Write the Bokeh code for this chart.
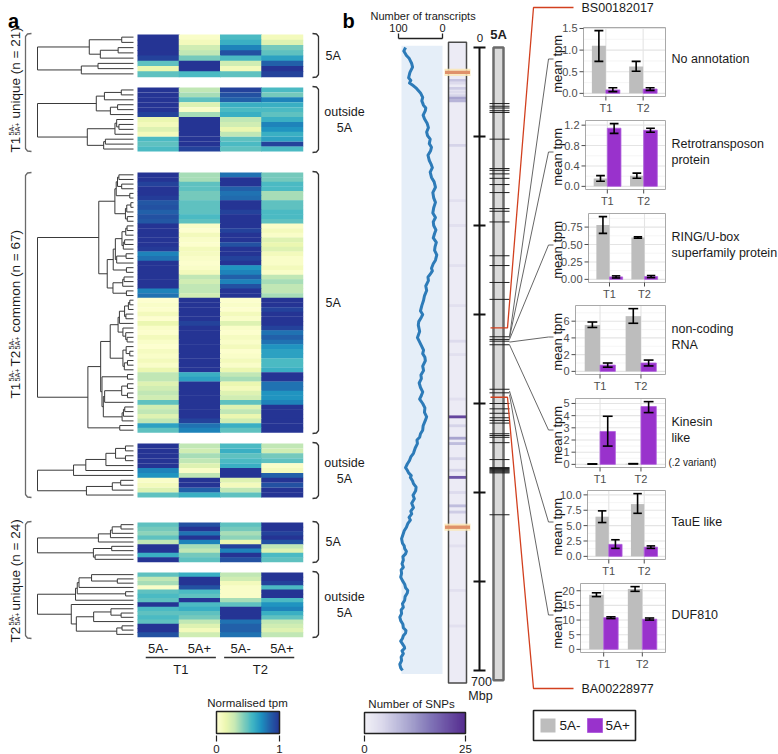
import numpy as np
from bokeh.plotting import figure
from bokeh.models import Range1d, ColumnDataSource, LinearColorMapper
from bokeh.core.properties import value
from bokeh.embed import file_html
from bokeh.resources import INLINE

# ======================= DATA =======================
heat_col_labels = ["5A-", "5A+", "5A-", "5A+"]
treatments = ["T1", "T2"]

# normalised tpm per transcript, columns: T1 5A-, T1 5A+, T2 5A-, T2 5A+
t1u_5a = [[1.0, 0.05, 0.55, 0.10], [1.0, 0.10, 0.60, 0.20], [1.0, 0.25, 0.75, 0.45],
          [1.0, 0.30, 0.90, 0.50], [0.95, 0.45, 0.55, 0.65], [0.50, 1.0, 0.25, 0.85],
          [0.15, 1.0, 0.10, 1.0], [0.50, 0.55, 0.50, 0.95]]
t1u_out = [[1.0, 0.30, 0.95, 0.55], [1.0, 0.35, 0.90, 0.45], [1.0, 0.50, 0.85, 0.75],
           [1.0, 0.20, 0.60, 0.60], [1.0, 0.05, 0.55, 0.55], [0.95, 0.35, 0.60, 0.50],
           [0.15, 1.0, 0.30, 0.60], [0.10, 1.0, 0.25, 0.75], [0.20, 1.0, 0.15, 0.70],
           [0.10, 1.0, 0.30, 0.60], [0.55, 1.0, 0.50, 0.65], [0.50, 1.0, 0.55, 0.95],
           [0.55, 0.95, 0.50, 0.55]]
com_5a = [[1.0, 0.35, 0.80, 0.45], [1.0, 0.35, 1.0, 0.45], [0.95, 0.50, 1.0, 0.55],
          [1.0, 0.50, 0.85, 0.55], [1.0, 0.45, 0.80, 0.35], [0.97, 0.45, 0.82, 0.35],
          [0.88, 0.50, 1.0, 0.50], [0.90, 0.50, 1.0, 0.50], [0.85, 0.50, 0.95, 0.55],
          [0.90, 0.55, 1.0, 0.55], [0.88, 0.50, 1.0, 0.50], [1.0, 0.05, 1.0, 0.05],
          [1.0, 0.02, 0.95, 0.10], [1.0, 0.10, 1.0, 0.05], [1.0, 0.05, 1.0, 0.20],
          [1.0, 0.03, 0.90, 0.15], [0.98, 0.10, 1.0, 0.20], [0.75, 0.08, 1.0, 0.10],
          [0.80, 0.05, 0.95, 0.05], [1.0, 0.03, 1.0, 0.05], [1.0, 0.05, 0.70, 0.10],
          [1.0, 0.10, 0.75, 0.05], [1.0, 0.30, 0.85, 0.30], [1.0, 0.25, 0.75, 0.35],
          [1.0, 0.30, 0.90, 0.30], [0.75, 0.30, 1.0, 0.30], [0.80, 0.25, 1.0, 0.35],
          [0.02, 1.0, 0.03, 1.0], [0.05, 1.0, 0.05, 1.0], [0.03, 1.0, 0.02, 0.95],
          [0.10, 1.0, 0.10, 1.0], [0.02, 1.0, 0.05, 1.0], [0.15, 0.95, 0.20, 1.0],
          [0.05, 1.0, 0.05, 0.95], [0.03, 1.0, 0.03, 0.80], [0.10, 1.0, 0.08, 0.85],
          [0.05, 1.0, 0.05, 0.80], [0.02, 1.0, 0.10, 0.70], [0.08, 1.0, 0.03, 0.65],
          [0.05, 1.0, 0.05, 0.65], [0.10, 1.0, 0.10, 0.55], [0.05, 1.0, 0.05, 0.55],
          [0.15, 1.0, 0.15, 0.60], [0.30, 0.60, 0.30, 1.0], [0.30, 0.65, 0.35, 1.0],
          [0.20, 1.0, 0.15, 0.80], [0.25, 1.0, 0.10, 0.80], [0.30, 1.0, 0.20, 0.70],
          [0.25, 1.0, 0.25, 0.70], [0.50, 1.0, 0.50, 0.75], [0.25, 1.0, 0.20, 1.0],
          [0.30, 1.0, 0.30, 1.0], [0.20, 1.0, 0.15, 1.0], [0.30, 0.95, 0.25, 1.0],
          [0.65, 0.80, 0.60, 1.0], [0.50, 0.75, 0.50, 1.0]]
com_out = [[1.0, 0.30, 0.55, 0.30], [1.0, 0.25, 0.60, 0.25], [1.0, 0.35, 0.50, 0.45],
           [1.0, 0.30, 0.55, 0.50], [1.0, 0.20, 0.60, 0.05], [0.75, 0.05, 1.0, 0.10],
           [0.70, 0.30, 1.0, 0.85], [0.05, 1.0, 0.20, 1.0], [0.10, 1.0, 0.10, 0.90],
           [0.20, 0.85, 0.30, 1.0], [0.50, 0.60, 0.50, 1.0]]
t2u_5a = [[0.50, 0.90, 0.50, 1.0], [0.45, 1.0, 0.45, 1.0], [0.40, 0.80, 0.35, 0.95],
          [0.50, 1.0, 0.40, 1.0], [0.30, 0.75, 0.15, 0.90], [1.0, 0.35, 0.95, 0.30],
          [1.0, 0.30, 0.75, 0.20], [0.60, 0.45, 1.0, 0.55], [1.0, 0.50, 0.90, 0.50]]
t2u_out = [[0.50, 0.60, 0.30, 1.0], [0.30, 1.0, 0.25, 1.0], [0.35, 1.0, 0.10, 0.95],
           [0.05, 0.90, 0.05, 0.55], [0.50, 0.55, 0.05, 1.0], [0.55, 0.50, 0.05, 1.0],
           [0.50, 1.0, 0.35, 0.55], [1.0, 0.55, 0.50, 0.70], [0.55, 0.60, 1.0, 0.75],
           [0.50, 0.50, 1.0, 0.60], [0.55, 0.45, 1.0, 0.50], [0.50, 0.30, 0.80, 0.30],
           [1.0, 0.20, 0.85, 0.25], [1.0, 0.10, 0.85, 0.20], [0.90, 0.25, 0.80, 0.30]]
heat_blocks = [t1u_5a, t1u_out, com_5a, com_out, t2u_5a, t2u_out]
block_side_labels = [["5A"], ["outside", "5A"], ["5A"], ["outside", "5A"], ["5A"], ["outside", "5A"]]

# transcripts along chromosome 5A (Mbp, number of transcripts)
tr_mbp = [0, 4, 9, 12, 15, 18, 22, 28, 34, 37, 40, 43, 46, 51, 56, 60, 65, 68, 71, 76,
          80, 85, 90, 95, 99, 103, 108, 112, 116, 121, 127, 131, 135, 140, 146, 151, 157, 163, 169, 174,
          180, 186, 191, 196, 200, 205, 209, 214, 219, 224, 228, 233, 239, 243, 248, 251, 254, 258, 262, 268,
          273, 279, 284, 290, 296, 300, 303, 308, 312, 319, 326, 330, 335, 340, 344, 348, 352, 358, 363, 368,
          372, 377, 382, 387, 391, 395, 400, 405, 410, 415, 419, 425, 430, 434, 438, 441, 445, 450, 456, 460,
          464, 468, 472, 475, 478, 481, 483, 487, 490, 494, 498, 503, 507, 512, 517, 521, 524, 528, 531, 535,
          539, 543, 546, 552, 557, 560, 563, 566, 569, 572, 576, 580, 584, 587, 591, 595, 599, 603, 607, 610,
          613, 617, 621, 625, 629, 632, 636, 640, 644, 648, 652, 655, 658, 661, 664, 667, 670, 673, 675, 678,
          681, 685, 689, 693, 697, 700]
tr_n = [84, 88, 82, 76, 73, 70, 68, 74, 77, 72, 75, 66, 59, 50, 45, 47, 43, 38, 39, 44,
        41, 35, 32, 36, 34, 28, 30, 25, 27, 33, 30, 26, 23, 28, 25, 19, 16, 22, 20, 16,
        20, 22, 16, 21, 20, 15, 18, 21, 14, 17, 18, 13, 16, 21, 25, 23, 27, 33, 32, 38,
        36, 41, 43, 47, 50, 45, 48, 54, 55, 52, 57, 53, 48, 43, 45, 40, 39, 45, 43, 49,
        48, 53, 50, 45, 48, 52, 45, 40, 41, 36, 39, 44, 45, 50, 52, 58, 57, 62, 66, 72,
        75, 80, 84, 80, 77, 71, 73, 68, 66, 60, 61, 67, 64, 70, 66, 72, 70, 76, 73, 79,
        82, 87, 89, 93, 91, 87, 86, 82, 84, 90, 89, 92, 89, 94, 93, 95, 91, 86, 84, 79,
        80, 85, 86, 91, 89, 94, 93, 97, 95, 90, 89, 83, 84, 89, 91, 95, 91, 87, 86, 92,
        89, 94, 93, 97, 95, 91]

# SNP density (Mbp, number of SNPs)
snp_mbp = [37, 40, 46, 50, 54, 57, 60, 110, 172, 200, 245, 290, 330, 345, 395,
           415, 425, 439, 445, 462, 475, 483, 500, 515, 522, 560, 610, 650]
snp_n = [7, 4, 6, 4, 5, 11, 9, 5, 3, 3, 3, 3, 4, 3, 3,
         22, 5, 11, 8, 5, 5, 20, 4, 8, 6, 3, 3, 3]

chrom_len = 711
axis_ticks_mbp = [0, 100, 200, 300, 400, 500, 600, 700]
marker_mbp = [63, 66, 68, 71, 73, 103, 136, 138, 142, 147, 154, 163, 181, 184, 196, 234, 245,
              264, 283, 325, 328, 330, 334, 384, 388, 400, 406, 411, 416, 419, 422, 434, 436,
              438, 444, 463, 472, 473, 474, 475, 476, 477, 478, 525]
flank_names = ["BS00182017", "BA00228977"]
flank_marker_mbp = [315, 393]
flank_snp_mbp = [28, 539]

# expression bar charts
gene_titles = [["No annotation"], ["Retrotransposon", "protein"], ["RING/U-box", "superfamily protein"],
               ["non-coding", "RNA"], ["Kinesin", "like"], ["TauE like"], ["DUF810"]]
gene_mbp = [325, 326, 328, 331, 334, 386, 390]
# order: T1 5A-, T1 5A+, T2 5A-, T2 5A+
bar_mean = [[1.10, 0.08, 0.62, 0.10], [0.155, 1.14, 0.21, 1.10], [0.78, 0.035, 0.60, 0.04],
            [5.55, 0.75, 6.60, 1.00], [0.03, 2.70, 0.05, 4.75], [6.45, 1.95, 8.50, 1.50],
            [18.6, 10.8, 20.6, 10.3]]
bar_lo = [[0.74, 0.04, 0.51, 0.07], [0.10, 1.04, 0.16, 1.06], [0.66, 0.02, 0.59, 0.025],
          [5.25, 0.50, 5.75, 0.65], [0.02, 1.50, 0.04, 4.25], [5.50, 1.30, 7.00, 1.30],
          [18.0, 10.5, 19.8, 10.0]]
bar_hi = [[1.45, 0.13, 0.74, 0.13], [0.21, 1.23, 0.26, 1.14], [0.90, 0.05, 0.61, 0.055],
          [5.90, 1.00, 7.50, 1.35], [0.04, 3.95, 0.06, 5.15], [7.40, 2.70, 10.2, 1.70],
          [19.3, 11.1, 21.4, 10.7]]
bar_ticks = [[0, 0.5, 1.0, 1.5], [0, 0.4, 0.8, 1.2], [0, 0.25, 0.5, 0.75], [0, 2, 4, 6],
             [0, 1, 2, 3, 4, 5], [0, 2.5, 5, 7.5, 10], [0, 5, 10, 15, 20]]
bar_tick_labels = [["0.0", "0.5", "1.0", "1.5"], ["0.0", "0.4", "0.8", "1.2"],
                   ["0.00", "0.25", "0.50", "0.75"], ["0", "2", "4", "6"],
                   ["0", "1", "2", "3", "4", "5"], ["0.0", "2.5", "5.0", "7.5", "10.0"],
                   ["0", "5", "10", "15", "20"]]
genotypes = ["5A-", "5A+"]

# ======================= LAYOUT / STYLE =======================
W, H = 778, 754
FONT = "Liberation Sans"
TXT = "#1a1a1a"
GRAY_BAR = "#bdbdbd"
PURPLE = "#9932cc"

p = figure(width=W, height=H, x_range=Range1d(0, W), y_range=Range1d(H, 0),
           output_backend="svg", toolbar_location=None, x_axis_type=None, y_axis_type=None,
           min_border=0, outline_line_color=None)
p.grid.visible = False

XR, YR = {}, {}


def add_x(name, d0, px0, d1, px1):
    k = (px1 - px0) / (d1 - d0)
    XR[name] = Range1d(start=d0 + (0 - px0) / k, end=d0 + (W - px0) / k)


def add_y(name, d0, py0, d1, py1):
    k = (py1 - py0) / (d1 - d0)
    YR[name] = Range1d(start=d0 + (H - py0) / k, end=d0 + (0 - py0) / k)


def txt(x, y, s, size=12.5, align="left", base="middle", color=TXT, angle=0.0,
        bold=False, font=FONT, **kw):
    p.text(x=[x], y=[y], text=[s], text_font=value(font), text_font_size=f"{size}px",
           text_align=align, text_baseline=base, text_color=color, angle=angle,
           text_font_style="bold" if bold else "normal", **kw)


def interp_palette(stops, n=256):
    cols = np.array([[int(c[i:i + 2], 16) for i in (1, 3, 5)] for c in stops], float)
    pos = np.linspace(0, 1, len(stops))
    out = []
    for t in np.linspace(0, 1, n):
        rgb = [int(round(np.interp(t, pos, cols[:, k]))) for k in range(3)]
        out.append("#%02x%02x%02x" % tuple(rgb))
    return out


heat_pal = interp_palette(["#ffffd4", "#edf8b1", "#c7e9b4", "#7fcdbb", "#41b6c4",
                           "#1d91c0", "#225ea8", "#253494"])
heat_map = LinearColorMapper(palette=heat_pal, low=0, high=1)
snp_pal = interp_palette(["#f1f0f7", "#dcdaec", "#bcbadb", "#9d98c8", "#7f72b6", "#6a4fa3", "#552c8f"])
snp_map = LinearColorMapper(palette=snp_pal, low=0, high=25)


def dendrogram_segments(rows):
    X = np.asarray(rows, float)
    clusters = [([i], i + 0.5, 0.0) for i in range(len(X))]
    segs = []
    while len(clusters) > 1:
        best_d, best_k = None, 0
        for k in range(len(clusters) - 1):
            a, b = clusters[k][0], clusters[k + 1][0]
            d = np.mean([np.linalg.norm(X[i] - X[j]) for i in a for j in b])
            if best_d is None or d < best_d:
                best_d, best_k = d, k
        (ma, pa, ha), (mb, pb, hb) = clusters[best_k], clusters[best_k + 1]
        h = max(best_d, ha, hb) + 0.02
        segs += [(ha, pa, h, pa), (hb, pb, h, pb), (h, pa, h, pb)]
        clusters[best_k:best_k + 2] = [(ma + mb, (pa + pb) / 2, h)]
    return segs, clusters[0][2]


# ======================= PANEL a =======================
txt(13, 20, "a", size=20, align="center", base="alphabetic", bold=True, color="#000000")

HM_LEFT, HM_RIGHT = 137, 302
add_x("hm", 0, HM_LEFT, 4, HM_RIGHT)
block_top = [34, 87, 172, 443, 522, 572]
block_bot = [76, 151, 432, 497, 561, 636]

for bi, rows in enumerate(heat_blocks):
    n = len(rows)
    yn = f"hb{bi}"
    add_y(yn, 0, block_top[bi], n, block_bot[bi])
    xs, ys, vs = [], [], []
    for i, r in enumerate(rows):
        for j, v in enumerate(r):
            xs.append(j + 0.5); ys.append(i + 0.5); vs.append(v)
    src = ColumnDataSource(dict(x=xs, y=ys, v=vs))
    p.rect(x="x", y="y", width=1, height=1, source=src, dilate=True,
           fill_color={"field": "v", "transform": heat_map}, line_color=None,
           x_range_name="hm", y_range_name=yn)
    # dendrogram
    segs, hmax = dendrogram_segments(rows)
    dn = f"dg{bi}"
    add_x(dn, 0, 133, hmax, 37)
    p.segment(x0=[s[0] for s in segs], y0=[s[1] for s in segs],
              x1=[s[2] for s in segs], y1=[s[3] for s in segs],
              line_color="#3a3a3a", line_width=1.0, x_range_name=dn, y_range_name=yn)
    # right bracket + label
    t, b = block_top[bi] - 1, block_bot[bi] + 1
    p.line(x=[312, 316, 318, 318, 316, 312], y=[t, t + 0.5, t + 3, b - 3, b - 0.5, b],
           line_color="#333333", line_width=1.3)
    lab = block_side_labels[bi]
    mid = (t + b) / 2
    if len(lab) == 1:
        txt(325, mid, lab[0], size=12.5)
    else:
        txt(344, mid - 8, lab[0], size=12.5, align="center")
        txt(344, mid + 8, lab[1], size=12.5, align="center")

# left group brackets
for t, b in [(33, 151), (172, 497), (521, 638)]:
    p.line(x=[31, 27, 25, 25, 27, 31], y=[t, t + 0.5, t + 3, b - 3, b - 0.5, b],
           line_color="#6a6a6a", line_width=1.3)

# rotated group labels
ANG = np.pi / 2
MAIN = 13.5
SMALL = 7.2


def group_label(pieces):
    for kind, ystart, s in pieces:
        if kind == "main":
            txt(15, ystart, s, size=MAIN, angle=ANG, base="alphabetic")
        else:
            txt(10.5, ystart, "5A-", size=SMALL, angle=ANG, base="alphabetic")
            txt(17, ystart, "5A+", size=SMALL, angle=ANG, base="alphabetic")


group_label([("main", 152, "T1"), ("ss", 135, ""), ("main", 118, "unique (n = 21)")])
group_label([("main", 398, "T1"), ("ss", 381, ""), ("main", 366, "T2"), ("ss", 349, ""),
             ("main", 332, "common (n = 67)")])
group_label([("main", 642, "T2"), ("ss", 625, ""), ("main", 610, "unique (n = 24)")])

# column labels and treatment underlines
p.text(x=[j + 0.5 for j in range(4)], y=[648] * 4, text=heat_col_labels, x_range_name="hm",
       text_font=value(FONT), text_font_size="13px", text_align="center",
       text_baseline="middle", text_color=TXT)
p.segment(x0=[0.2, 2.1], x1=[1.9, 3.8], y0=[657, 657], y1=[657, 657], x_range_name="hm",
          line_color="#333333", line_width=1.5)
p.text(x=[1.05, 2.98], y=[669, 669], text=treatments, x_range_name="hm",
       text_font=value(FONT), text_font_size="13px", text_align="center",
       text_baseline="middle", text_color=TXT)

# heat colour bar
txt(247, 702, "Normalised tpm", size=11.5, align="center")
p.image(image=[np.linspace(0, 1, 128).reshape(1, -1)], x=216, y=711, dw=63, dh=22,
        color_mapper=heat_map)
p.quad(left=216, right=279, top=711, bottom=733, fill_color=None, line_color="#222222",
       line_width=1.5)
p.segment(x0=[216, 279], x1=[216, 279], y0=[735, 735], y1=[741, 741], line_color="#222222",
          line_width=1.2)
txt(216, 748, "0", size=11.5, align="center")
txt(279, 748, "1", size=11.5, align="center")

# ======================= PANEL b =======================
txt(348, 20, "b", size=20, align="center", base="alphabetic", bold=True, color="#000000")
add_x("cnt", 100, 398, 0, 442)
add_y("mbp", 0, 47, 700, 670)


def mbp_px(v):
    return 47 + v * (670 - 47) / 700


txt(370, 15, "Number of transcripts", size=11)
p.text(x=[100, 0], y=[27, 27], text=["100", "0"], x_range_name="cnt",
       text_font=value(FONT), text_font_size="11px", text_align="center",
       text_baseline="middle", text_color=TXT)
p.segment(x0=[100], x1=[0], y0=[38], y1=[38], x_range_name="cnt", line_color="#222222",
          line_width=1.3)
p.segment(x0=[100, 0], x1=[100, 0], y0=[33, 33], y1=[38, 38], x_range_name="cnt",
          line_color="#222222", line_width=1.3)
p.quad(left=[401], right=[442], top=[-2], bottom=[704], y_range_name="mbp",
       fill_color="#e5eef8", line_color=None)
p.line(x=tr_n, y=tr_mbp, x_range_name="cnt", y_range_name="mbp", line_color="#2d7bb8",
       line_width=3, line_join="round")

# SNP strip
p.quad(left=[448], right=[466], top=[-6], bottom=[714], y_range_name="mbp",
       fill_color="#ecebf5", line_color=None)
snp_src = ColumnDataSource(dict(y=snp_mbp, n=snp_n))
p.rect(x=457, y="y", width=17.5, height=3.2, source=snp_src, y_range_name="mbp",
       fill_color={"field": "n", "transform": snp_map}, line_color=None)
p.quad(left=[448], right=[466], top=[-6], bottom=[714], y_range_name="mbp",
       fill_color=None, line_color="#4a4a4a", line_width=1.5)
p.rect(x=457, y=flank_snp_mbp, width=26, height=8, y_range_name="mbp",
       fill_color="#fbe7b5", fill_alpha=0.85, line_color=None)
p.rect(x=457, y=flank_snp_mbp, width=25, height=3.8, y_range_name="mbp",
       fill_color="#df916a", line_color=None)

# Mbp axis
p.segment(x0=[479], x1=[479], y0=[0], y1=[700], y_range_name="mbp", line_color="#111111",
          line_width=2)
p.segment(x0=[473] * len(axis_ticks_mbp), x1=[485] * len(axis_ticks_mbp), y0=axis_ticks_mbp,
          y1=axis_ticks_mbp, y_range_name="mbp", line_color="#111111", line_width=2)
txt(479.5, 37, "0", size=11.5, align="center")
txt(481, 681, "700", size=12.5, align="center")
txt(480, 695, "Mbp", size=12.5, align="center")

# chromosome 5A
txt(498, 34, "5A", size=13, align="center", bold=True, color="#222222")
p.quad(left=[493], right=[503], top=[0], bottom=[chrom_len], y_range_name="mbp",
       fill_color="#dadada", line_color="#6b6b6b", line_width=2.5)
p.segment(x0=[489] * len(marker_mbp), x1=[509] * len(marker_mbp), y0=marker_mbp,
          y1=marker_mbp, y_range_name="mbp", line_color="#1e1e1e", line_width=1)

# flanking markers (red)
label_y = [7, 688]
for fm, ly, name in zip(flank_marker_mbp, label_y, flank_names):
    yy = mbp_px(fm)
    p.line(x=[490, 507, 533, 573], y=[yy, yy, ly, ly], line_color="#d2401f", line_width=1.3)
    txt(581, ly, name, size=12.5)

# bar charts
box_left = [583, 585, 588, 575, 575, 587, 580]
BOX_RIGHT = 665
box_top = [27, 120, 213, 305, 398, 490, 583]
BOX_H = 69
offs = [-0.1875, 0.1875]
BW = 0.375
for k in range(7):
    L, R, T, B = box_left[k], BOX_RIGHT, box_top[k], box_top[k] + BOX_H
    top_val = max(bar_hi[k])
    ymin, ymax = -0.05 * top_val, 1.05 * top_val
    xn, yn = f"bx{k}", f"by{k}"
    add_x(xn, 0.4, L, 2.6, R)
    add_y(yn, ymin, B, ymax, T)
    ticks = bar_ticks[k]
    step = ticks[1] - ticks[0]
    minor = [t + step / 2 for t in ticks if t + step / 2 < ymax]
    kw = dict(x_range_name=xn, y_range_name=yn)
    p.segment(x0=[0.4] * len(minor), x1=[2.6] * len(minor), y0=minor, y1=minor,
              line_color="#f1f1f1", line_width=0.7, **kw)
    p.segment(x0=[0.4] * len(ticks), x1=[2.6] * len(ticks), y0=ticks, y1=ticks,
              line_color="#e4e4e4", line_width=1.1, **kw)
    p.segment(x0=[1, 2], x1=[1, 2], y0=[ymin] * 2, y1=[ymax] * 2,
              line_color="#e4e4e4", line_width=1.1, **kw)
    m, lo, hi = bar_mean[k], bar_lo[k], bar_hi[k]
    xs = [g + o for g in (1, 2) for o in offs]
    p.vbar(x=[xs[0], xs[2]], top=[m[0], m[2]], bottom=0, width=BW, fill_color=GRAY_BAR,
           line_color=None, **kw)
    p.vbar(x=[xs[1], xs[3]], top=[m[1], m[3]], bottom=0, width=BW, fill_color=PURPLE,
           line_color="#b060dd", line_width=0.8, **kw)
    p.segment(x0=xs, x1=xs, y0=lo, y1=hi, line_color="#000000", line_width=1.6, **kw)
    cw = 0.12
    p.segment(x0=[x - cw for x in xs], x1=[x + cw for x in xs], y0=lo, y1=lo,
              line_color="#000000", line_width=1.6, **kw)
    p.segment(x0=[x - cw for x in xs], x1=[x + cw for x in xs], y0=hi, y1=hi,
              line_color="#000000", line_width=1.6, **kw)
    p.quad(left=[0.4], right=[2.6], bottom=[ymin], top=[ymax], fill_color=None,
           line_color="#a9a9a9", line_width=1, **kw)
    # y axis ticks / labels
    p.segment(x0=[L - 4] * len(ticks), x1=[L] * len(ticks), y0=ticks, y1=ticks,
              y_range_name=yn, line_color="#4d4d4d", line_width=1)
    p.text(x=[L - 6] * len(ticks), y=ticks, text=bar_tick_labels[k], y_range_name=yn,
           text_font=value(FONT), text_font_size="11px", text_align="right",
           text_baseline="middle", text_color="#4d4d4d")
    # x axis ticks / labels
    p.segment(x0=[1, 2], x1=[1, 2], y0=[B, B], y1=[B + 4, B + 4], x_range_name=xn,
              line_color="#4d4d4d", line_width=1)
    p.text(x=[1, 2], y=[B + 11, B + 11], text=treatments, x_range_name=xn,
           text_font=value(FONT), text_font_size="11px", text_align="center",
           text_baseline="middle", text_color="#4d4d4d")
    mid = (T + B) / 2
    txt(557, mid, "mean  tpm", size=13, angle=np.pi / 2, align="center")
    # gene title
    lines = gene_titles[k]
    for li, s in enumerate(lines):
        txt(671, mid - 3 + (li - (len(lines) - 1) / 2) * 16, s, size=12.5)
    # connector from chromosome
    hy = mid - 3
    p.line(x=[509, 548, 553], y=[mbp_px(gene_mbp[k]), hy, hy], line_color="#555555",
           line_width=0.9)

txt(668, 462, "(.2 variant)", size=10)

# SNP colour bar
txt(411, 703, "Number of SNPs", size=11.5, align="center")
p.image(image=[np.linspace(0, 25, 128).reshape(1, -1)], x=364, y=712, dw=101, dh=21,
        color_mapper=snp_map)
p.quad(left=364, right=465, top=712, bottom=733, fill_color=None, line_color="#222222",
       line_width=1.5)
p.segment(x0=[364, 465], x1=[364, 465], y0=[735, 735], y1=[741, 741], line_color="#222222",
          line_width=1.2)
txt(364, 748, "0", size=11.5, align="center")
txt(465, 748, "25", size=11.5, align="center")

# bar legend
p.quad(left=533, right=635, top=710, bottom=740, fill_color=None, line_color="#222222",
       line_width=1.6)
p.quad(left=[540], right=[555], top=[718], bottom=[732], fill_color=GRAY_BAR, line_color=None)
p.quad(left=[587], right=[602], top=[718], bottom=[732], fill_color=PURPLE,
       line_color="#b060dd")
txt(559, 725, genotypes[0], size=13.5)
txt(605, 725, genotypes[1], size=13.5)

p.extra_x_ranges = XR
p.extra_y_ranges = YR

open("out.html", "w").write(file_html(p, INLINE, "5A expression"))
